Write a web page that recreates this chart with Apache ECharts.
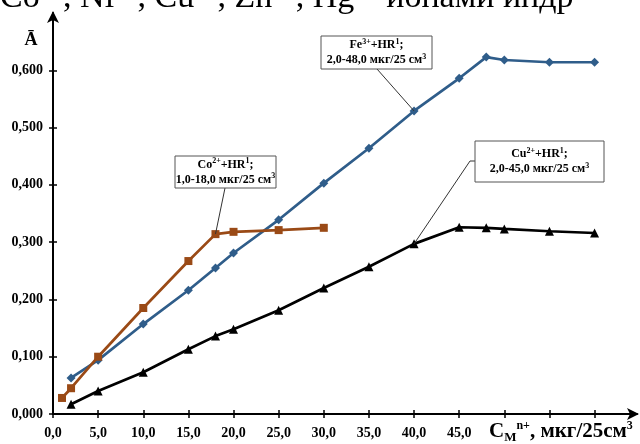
<!DOCTYPE html>
<html>
<head>
<meta charset="utf-8">
<script src="https://cdn.jsdelivr.net/npm/echarts@6/dist/echarts.min.js"></script>
<style>
  html, body { margin: 0; padding: 0; background: #fff; }
  #chart { width: 640px; height: 444px; }
</style>
</head>
<body>
<div id="chart"></div>
<script>
// данные
const feX = [2, 5, 10, 15, 18, 20, 25, 30, 35, 40, 45, 48, 50, 55, 60]
const feY = [0.063, 0.094, 0.157, 0.216, 0.255, 0.281, 0.339, 0.403, 0.464, 0.529, 0.586, 0.623, 0.618, 0.614, 0.614]
const coX = [1, 2, 5, 10, 15, 18, 20, 25, 30]
const coY = [0.028, 0.045, 0.100, 0.185, 0.267, 0.314, 0.318, 0.321, 0.325]
const cuX = [2, 5, 10, 15, 18, 20, 25, 30, 35, 40, 45, 48, 50, 55, 60]
const cuY = [0.017, 0.040, 0.073, 0.113, 0.136, 0.148, 0.181, 0.220, 0.257, 0.297, 0.326, 0.325, 0.323, 0.319, 0.316]
const xTicks = [0, 5, 10, 15, 20, 25, 30, 35, 40, 45, 50, 55, 60]
const xLabels = [0, 5, 10, 15, 20, 25, 30, 35, 40, 45]
const yTicks = [0, 0.1, 0.2, 0.3, 0.4, 0.5, 0.6]

const serif = "'Liberation Serif', 'Times New Roman', serif"
const pairs = (xs, ys) => xs.map((x, i) => [x, ys[i]])

const chart = echarts.init(document.getElementById('chart'))

const boxRich = {
  b: { fontFamily: serif, fontWeight: 'bold', fontSize: 12, color: '#000', lineHeight: 15 },
  s: { fontFamily: serif, fontWeight: 'bold', fontSize: 8, color: '#000', lineHeight: 15, verticalAlign: 'top', padding: [0, 0, 6, 0] }
}

function box(x, y, w, h, lines) {
  return [
    { type: 'rect', shape: { x: x, y: y, width: w, height: h }, style: { fill: '#fff', stroke: '#555', lineWidth: 1 }, z: 10 },
    { type: 'text', x: x + w / 2, y: y + h / 2, style: { text: lines, rich: boxRich, align: 'center', verticalAlign: 'middle' }, z: 11 }
  ]
}

const axisLineStyle = { color: '#000', width: 2 }
const tickStyle = { color: '#000', width: 1.5 }

let option = {
  animation: false,
  backgroundColor: '#fff',
  grid: { left: 53, right: 3, top: 13, bottom: 30, outerBoundsMode: 'none' },
  xAxis: [
    {
      type: 'value', min: 0, max: 64.7,
      axisLine: { show: true, symbol: ['none', 'arrow'], symbolSize: [9, 12], symbolOffset: [0, 2], lineStyle: axisLineStyle },
      axisTick: { show: true, customValues: xTicks, length: 4, lineStyle: tickStyle },
      axisLabel: {
        customValues: xLabels, margin: 12,
        fontFamily: serif, fontWeight: 'bold', fontSize: 14, color: '#000',
        formatter: v => v.toFixed(1).replace('.', ',')
      },
      splitLine: { show: false }
    },
    {
      type: 'value', min: 0, max: 64.7, position: 'bottom',
      axisLine: { show: false },
      axisTick: { show: true, inside: true, customValues: xTicks, length: 4, lineStyle: tickStyle },
      axisLabel: { show: false },
      splitLine: { show: false }
    }
  ],
  yAxis: [
    {
      type: 'value', min: 0, max: 0.70,
      axisLine: { show: true, symbol: ['none', 'arrow'], symbolSize: [9, 12], symbolOffset: [0, 2], lineStyle: axisLineStyle },
      axisTick: { show: true, customValues: yTicks, length: 4, lineStyle: tickStyle },
      axisLabel: {
        customValues: yTicks, margin: 10,
        fontFamily: serif, fontWeight: 'bold', fontSize: 14, color: '#000',
        formatter: v => v.toFixed(3).replace('.', ',')
      },
      splitLine: { show: false }
    },
    {
      type: 'value', min: 0, max: 0.70, position: 'left',
      axisLine: { show: false },
      axisTick: { show: true, inside: true, customValues: yTicks, length: 4, lineStyle: tickStyle },
      axisLabel: { show: false },
      splitLine: { show: false }
    }
  ],
  series: [
    {
      name: 'Fe', type: 'line', data: pairs(feX, feY),
      symbol: 'diamond', symbolSize: 9,
      lineStyle: { color: '#2f5d8a', width: 2.7 },
      itemStyle: { color: '#2f5d8a' }, z: 3
    },
    {
      name: 'Co', type: 'line', data: pairs(coX, coY),
      symbol: 'rect', symbolSize: 8,
      lineStyle: { color: '#9a4a16', width: 2.7 },
      itemStyle: { color: '#9a4a16' }, z: 4
    },
    {
      name: 'Cu', type: 'line', data: pairs(cuX, cuY),
      symbol: 'triangle', symbolSize: 9,
      lineStyle: { color: '#000', width: 2.7 },
      itemStyle: { color: '#000' }, z: 2
    }
  ]
}
chart.setOption(option)

// выноски: концы привязаны к точкам данных
const pFe = chart.convertToPixel({ seriesIndex: 0 }, [40, feY[9]])
const pCo = chart.convertToPixel({ seriesIndex: 1 }, [18, coY[5]])
const pCu = chart.convertToPixel({ seriesIndex: 2 }, [40, cuY[9]])

const leader = (pts) => ({ type: 'polyline', shape: { points: pts }, style: { stroke: '#333', lineWidth: 1, fill: null }, z: 9 })

chart.setOption({
  graphic: [
    // обрезанная строка текста над графиком
    { type: 'text', x: 0, y: 19, style: {
      text: '{n|Co}{s|2+}{n|, Ni}{s|2+}{n|, Cu}{s|2+}{n|, Zn}{s|2+}{n|, Hg}{s|2+}{n| ионами индр}',
      rich: {
        n: { fontFamily: serif, fontSize: 34, color: '#000' },
        s: { fontFamily: serif, fontSize: 22, color: '#000', verticalAlign: 'top', padding: [0, 0, 20, 0] }
      },
      verticalAlign: 'bottom'
    } },
    { type: 'text', x: 31, y: 40, style: { text: 'Ā', fontFamily: serif, fontWeight: 'bold', fontSize: 18, fill: '#000', align: 'center', verticalAlign: 'middle' } },
    { type: 'text', x: 489, y: 444, style: {
      text: '{c|C}{m|M}{p|n+}{c|, мкг/25см}{p|3}',
      rich: {
        c: { fontFamily: serif, fontWeight: 'bold', fontSize: 21, color: '#000', lineHeight: 24 },
        m: { fontFamily: serif, fontWeight: 'bold', fontSize: 13, color: '#000', lineHeight: 24, verticalAlign: 'bottom' },
        p: { fontFamily: serif, fontWeight: 'bold', fontSize: 12, color: '#000', lineHeight: 24, verticalAlign: 'top', padding: [0, 0, 10, 0] }
      },
      verticalAlign: 'bottom'
    } },
    leader([[377, 69], pFe]),
    leader([[225, 188], pCo]),
    leader([[475, 161], [470, 161], pCu]),
    ...box(321, 36, 111, 33, '{b|Fe}{s|3+}{b|+HR}{s|1}{b|;}\n{b|2,0-48,0 мкг/25 см}{s|3}'),
    ...box(175, 156, 101, 32, '{b|Co}{s|2+}{b|+HR}{s|1}{b|;}\n{b|1,0-18,0 мкг/25 см}{s|3}'),
    ...box(475, 141, 129, 41, '{b|Cu}{s|2+}{b|+HR}{s|1}{b|;}\n{b|2,0-45,0 мкг/25 см}{s|3}')
  ]
})

window.addEventListener('resize', () => chart.resize())
</script>
</body>
</html>
